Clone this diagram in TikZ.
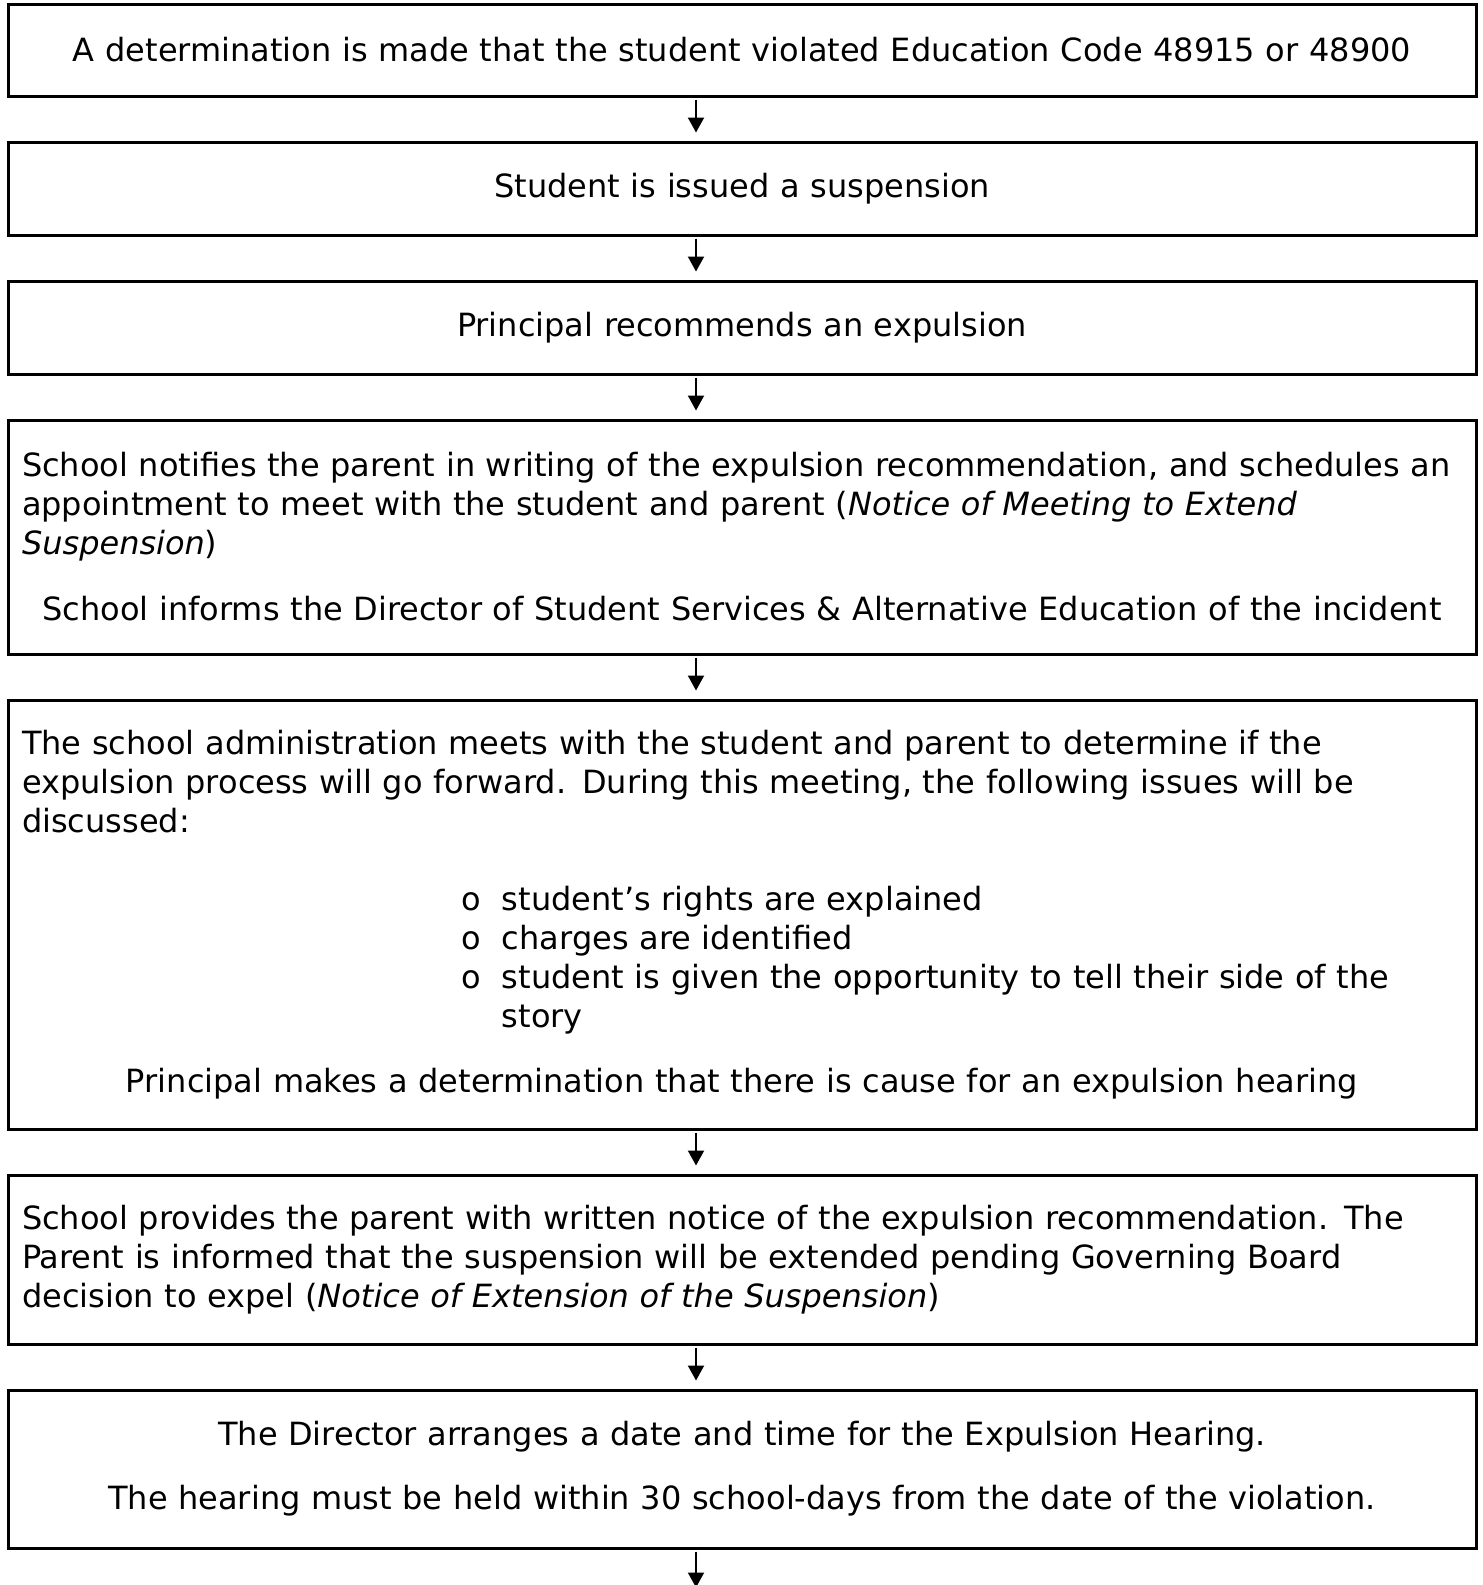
\documentclass[tikz,border=0pt]{standalone}
\usepackage{fontspec}
\setmainfont{DejaVu Sans}[WordSpace=1.1]
\usetikzlibrary{positioning,arrows.meta}

\begin{document}
\begin{tikzpicture}[node distance=21.5pt,
  flowbox/.style={draw, rectangle, line width=1.5pt, text width=720pt, inner xsep=7pt, inner ysep=0pt, align=left, font=\fontsize{16pt}{19.5pt}\selectfont, execute at end node={\endgraf\vskip-3pt}},
  centerbox/.style={flowbox, align=center},
  flowarrow/.style={-{Triangle[width=8pt,length=7.5pt]}, line width=1pt, shorten <=1pt, shorten >=4pt}]
\useasboundingbox (0,0) rectangle (741.5pt,-792.5pt);

\node (violation) [centerbox, minimum height=46pt] at (371pt,-25pt) {A determination is made that the student violated Education Code 48915 or 48900};
\node (suspend) [centerbox, minimum height=46.5pt, below=of violation] {Student is issued a suspension};
\node (recommend) [centerbox, minimum height=46.5pt, below=of suspend] {Principal recommends an expulsion};
\node (notify) [flowbox, minimum height=117pt, below=of recommend] {School notifies the parent in writing of the expulsion recommendation, and schedules an\\
appointment to meet with the student and parent (\textit{Notice of Meeting to Extend}\\
\textit{Suspension})\par\vspace{13.5pt}
\centerline{School informs the Director of Student Services \& Alternative Education of the incident}};
\node (meet) [flowbox, minimum height=214.5pt, below=of notify] {The school administration meets with the student and parent to determine if the\\
expulsion process will go forward. During this meeting, the following issues will be\\
discussed:\\[19.5pt]
\hspace*{220pt}\makebox[20pt][l]{o}student's rights are explained\\
\hspace*{220pt}\makebox[20pt][l]{o}charges are identified\\
\hspace*{220pt}\makebox[20pt][l]{o}student is given the opportunity to tell their side of the\\
\hspace*{240pt}story\par\vspace{13pt}
\centerline{Principal makes a determination that there is cause for an expulsion hearing}};
\node (extend) [flowbox, minimum height=84.5pt, below=of meet] {School provides the parent with written notice of the expulsion recommendation. The\\
Parent is informed that the suspension will be extended pending Governing Board\\
decision to expel (\textit{Notice of Extension of the Suspension})};
\node (hearing) [centerbox, minimum height=79pt, below=of extend] {The Director arranges a date and time for the Expulsion Hearing.\\[12.5pt]
The hearing must be held within 30 school-days from the date of the violation.};
\coordinate (next) at ([yshift=-23pt]hearing.south);

\draw[flowarrow] ([xshift=-23pt]violation.south) -- ([xshift=-23pt]suspend.north);
\draw[flowarrow] ([xshift=-23pt]suspend.south) -- ([xshift=-23pt]recommend.north);
\draw[flowarrow] ([xshift=-23pt]recommend.south) -- ([xshift=-23pt]notify.north);
\draw[flowarrow] ([xshift=-23pt]notify.south) -- ([xshift=-23pt]meet.north);
\draw[flowarrow] ([xshift=-23pt]meet.south) -- ([xshift=-23pt]extend.north);
\draw[flowarrow] ([xshift=-23pt]extend.south) -- ([xshift=-23pt]hearing.north);
\draw[flowarrow] ([xshift=-23pt]hearing.south) -- ([xshift=-23pt]next);
\end{tikzpicture}
\end{document}
